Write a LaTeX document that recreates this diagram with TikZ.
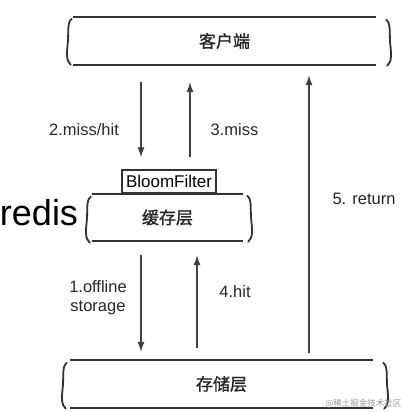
\documentclass[tikz,border=0pt]{standalone}
\usepackage{fontspec}
\setmainfont{Liberation Sans}
\newfontfamily\cjk[FakeBold=1.2]{Noto Sans CJK SC}
\newfontfamily\cjklight{Noto Sans CJK SC}
\usetikzlibrary{arrows.meta, calc}
\colorlet{layerLine}{black!80}
\colorlet{flowLine}{black!75}
\colorlet{labelText}{black!85}
\tikzstyle{layer}=[minimum height=48pt, inner sep=0pt, text=labelText, font=\cjk\fontsize{17}{17}\selectfont]
\tikzstyle{layerrule}=[layerLine, line width=2.4pt]
\tikzstyle{flow}=[flowLine, line width=1.1pt, -{Latex[length=10pt, width=7pt]}]
\tikzstyle{lbl}=[anchor=base, text=labelText, font=\fontsize{16.5}{19}\selectfont, align=center]
\tikzset{wave/.pic={\draw[layerLine, line width=1.8pt, line cap=round] (0,0) .. controls (-5,3) and (-3,15) .. (-4,24) .. controls (-5,33) and (-6,42) .. (-1,46);}}

\begin{document}
\begin{tikzpicture}[x=1pt, y=-1pt]
				\useasboundingbox (0,0) rectangle (408,412);

				% the three layers
				\node[layer, minimum width=303pt] (client) at (224.5,41) {客户端};
				\node[layer, minimum width=151pt, minimum height=47pt] (cache) at (167.5,217.5) {缓存层};
				\node[layer, minimum width=303pt] (store) at (221.5,384) {存储层};
				\node[draw=layerLine, line width=1.4pt, minimum width=94pt, minimum height=23pt, inner sep=0pt, font=\fontsize{17}{17}\selectfont] (bloom) at (169,181.5) {BloomFilter};
				\node[anchor=base, font=\fontsize{36}{36}\selectfont] (redis) at (39,225) {redis};

				\foreach \n in {client, cache, store} {
					\draw[layerrule] (\n.north west) -- (\n.north east);
					\draw[layerrule] (\n.south west) -- (\n.south east);
				}
				\pic at ($(client.north west)+(-1,2)$) {wave};
				\pic[xscale=-1] at ($(client.north east)+(10,3)$) {wave};
				\pic at ($(cache.north west)+(-1,3)$) {wave};
				\pic[xscale=-1] at ($(cache.north east)+(4,2)$) {wave};
				\pic at ($(store.north west)+(-3,3)$) {wave};
				\pic[xscale=-1] at ($(store.north east)+(10,3)$) {wave};

				% arrow columns
				\coordinate (colA) at (141,0);
				\coordinate (colB) at (190,0);
				\coordinate (colC) at (197,0);
				\coordinate (colD) at (309,0);

				\draw[flow, shorten <=17pt, shorten >=12pt] (client.south -| colA) -- (bloom.north -| colA);
				\draw[flow, shorten <=12pt, shorten >=17pt] (bloom.north -| colB) -- (client.south -| colB);
				\draw[flow, shorten <=14pt, shorten >=8pt] (cache.south -| colA) -- (store.north -| colA);
				\draw[flow, shorten <=12pt, shorten >=14pt] (store.north -| colC) -- (cache.south -| colC);
				\draw[flow, shorten <=7pt, shorten >=10pt] (store.north -| colD) -- (client.south -| colD);

				\node[lbl] (missHit) at (84,135) {2.miss/hit};
				\node[lbl] (miss) at (234.5,135) {3.miss};
				\node[lbl] (ret) at (364,204) {5. return};
				\node[lbl] (offline) at (98,311) {1.offline\\storage};
				\node[lbl] (hit) at (235,297) {4.hit};

				\node[anchor=base east, text=black!40, font=\cjklight\fontsize{8.5}{9}\selectfont] (mark) at (405,406) {@稀土掘金技术社区};
			\end{tikzpicture}
\end{document}
